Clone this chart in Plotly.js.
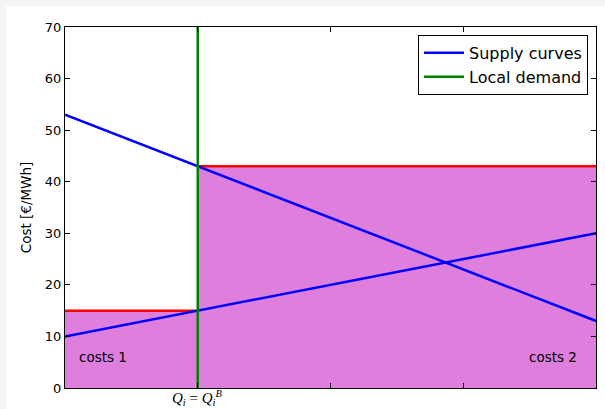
<!DOCTYPE html>
<html>
<head>
<meta charset="utf-8">
<script src="https://cdn.plot.ly/plotly-3.0.1.min.js"></script>
<style>
  html, body { margin: 0; padding: 0; background: #f5f5f5; width: 605px; height: 409px; overflow: hidden; }
  #chart { position: absolute; left: 6px; top: 6px; width: 599px; height: 403px; background: #ffffff; }
</style>
</head>
<body>
<div id="chart"></div>
<script>
// Data
const supplyX = [0, 4];
const supply1 = [10, 30];
const supply2 = [53, 13];
const demandQ = 1;
const demandY = [0, 70];
const costX1 = [0, 1];
const costY1 = [15, 15];
const costX2 = [1, 4];
const costY2 = [43, 43];
const xTickVals = [0, 1, 2, 3, 4];
const xTickText = ['', '', '', '', ''];
const yTickVals = [0, 10, 20, 30, 40, 50, 60, 70];
const legendNames = ['Supply curves', 'Local demand'];
const costLabels = ['costs 1', 'costs 2'];
const qLabel = '<i>Q</i><sub><i>i</i></sub> = <i>Q</i><sub><i>i</i></sub><sup><i>B</i></sup>';

const fillColor = 'rgb(223,127,221)';

const traces = [
  { x: costX1, y: costY1, type: 'scatter', mode: 'lines', fill: 'tozeroy', fillcolor: fillColor,
    line: { color: 'rgb(255,0,0)', width: 2.5 }, showlegend: false, hoverinfo: 'skip' },
  { x: costX2, y: costY2, type: 'scatter', mode: 'lines', fill: 'tozeroy', fillcolor: fillColor,
    line: { color: 'rgb(255,0,0)', width: 2.5 }, showlegend: false, hoverinfo: 'skip' },
  { x: supplyX.concat([null]).concat(supplyX), y: supply1.concat([null]).concat(supply2),
    type: 'scatter', mode: 'lines', name: legendNames[0],
    line: { color: 'rgb(0,0,255)', width: 2.5 } },
  { x: [demandQ, demandQ], y: demandY, type: 'scatter', mode: 'lines', name: legendNames[1],
    line: { color: 'rgb(0,128,0)', width: 2.5 } }
];

const axisCommon = {
  showgrid: false, zeroline: false, showline: true, linecolor: 'black', linewidth: 1,
  mirror: 'ticks', ticks: 'inside', ticklen: 5, tickwidth: 1, tickcolor: 'black',
  tickfont: { family: 'DejaVu Sans', size: 13, color: 'black' }
};

const layout = {
  width: 599, height: 403,
  margin: { l: 59, r: 9, t: 21, b: 21, pad: 0 },
  paper_bgcolor: 'white', plot_bgcolor: 'white',
  font: { family: 'DejaVu Sans', size: 13, color: 'black' },
  xaxis: Object.assign({}, axisCommon, {
    range: [0, 4], tickvals: xTickVals, ticktext: xTickText, fixedrange: true
  }),
  yaxis: Object.assign({}, axisCommon, {
    range: [0, 70], tickvals: yTickVals, fixedrange: true,
    title: { text: 'Cost [€/MWh]', font: { family: 'DejaVu Sans', size: 13.5, color: 'black' }, standoff: 10 }
  }),
  legend: {
    x: 0.985, y: 0.978, xanchor: 'right', yanchor: 'top',
    bgcolor: 'white', bordercolor: 'black', borderwidth: 1,
    font: { family: 'DejaVu Sans', size: 16, color: 'black' },
    itemwidth: 40,
    tracegroupgap: 0
  },
  annotations: [
    { x: 0.09, y: 6, xref: 'x', yref: 'y', text: costLabels[0], showarrow: false,
      xanchor: 'left', yanchor: 'middle', font: { family: 'DejaVu Sans', size: 13.5, color: 'black' } },
    { x: 3.87, y: 6, xref: 'x', yref: 'y', text: costLabels[1], showarrow: false,
      xanchor: 'right', yanchor: 'middle', font: { family: 'DejaVu Sans', size: 13.5, color: 'black' } },
    { x: demandQ, y: 0, xref: 'x', yref: 'paper', text: qLabel, showarrow: false,
      xanchor: 'center', yanchor: 'top', yshift: 2,
      font: { family: 'Liberation Serif', size: 15, color: 'black' } }
  ],
  showlegend: true
};

Plotly.newPlot('chart', traces, layout, { displayModeBar: false, staticPlot: true });
</script>
</body>
</html>
